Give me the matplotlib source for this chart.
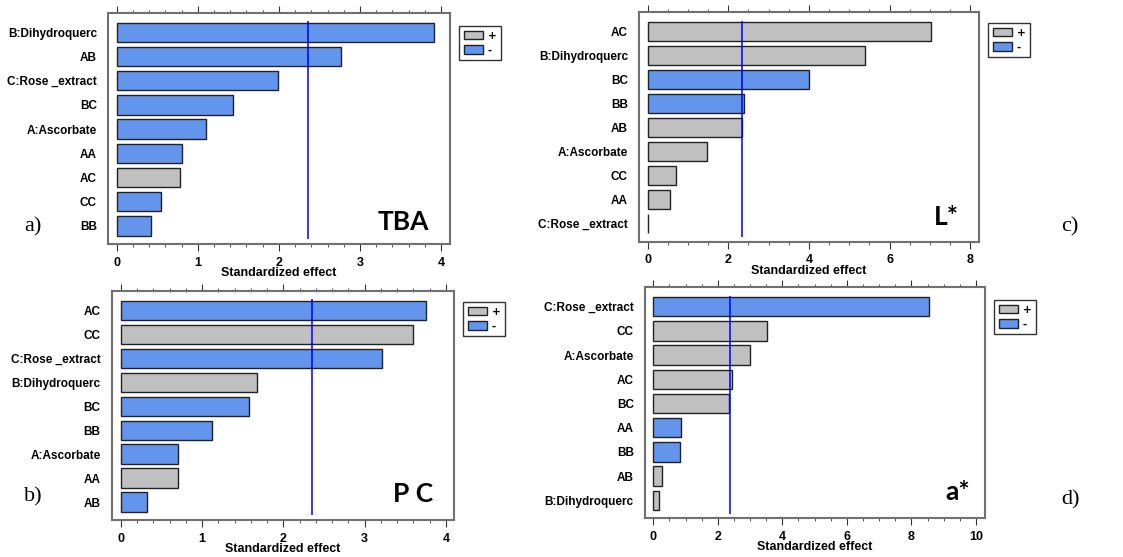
import matplotlib
matplotlib.use("Agg")
import matplotlib.pyplot as plt
from matplotlib.patches import Patch
from matplotlib.ticker import MultipleLocator

BLUE = "#6495ED"
GRAY = "#C0C0C0"

# Panel a) TBA
tba_labels = ["B:Dihydroquerc", "AB", "C:Rose _extract", "BC", "A:Ascorbate", "AA", "AC", "CC", "BB"]
tba_values = [3.91, 2.77, 1.99, 1.44, 1.10, 0.80, 0.78, 0.55, 0.42]
tba_signs = ["-", "-", "-", "-", "-", "-", "+", "-", "-"]

# Panel c) L*
l_labels = ["AC", "B:Dihydroquerc", "BC", "BB", "AB", "A:Ascorbate", "CC", "AA", "C:Rose _extract"]
l_values = [7.03, 5.39, 4.01, 2.40, 2.33, 1.47, 0.69, 0.55, 0.01]
l_signs = ["+", "+", "-", "-", "+", "+", "+", "+", "+"]

# Panel b) P C
pc_labels = ["AC", "CC", "C:Rose _extract", "B:Dihydroquerc", "BC", "BB", "A:Ascorbate", "AA", "AB"]
pc_values = [3.76, 3.59, 3.21, 1.68, 1.58, 1.12, 0.71, 0.70, 0.32]
pc_signs = ["-", "+", "-", "+", "-", "-", "-", "+", "-"]

# Panel d) a*
a_labels = ["C:Rose _extract", "CC", "A:Ascorbate", "AC", "BC", "AA", "BB", "AB", "B:Dihydroquerc"]
a_values = [8.54, 3.53, 3.01, 2.44, 2.34, 0.86, 0.84, 0.27, 0.19]
a_signs = ["-", "+", "+", "+", "+", "-", "-", "+", "+"]

critical = [2.365, 2.35, 2.355, 2.38]

fig = plt.figure(figsize=(11.23, 5.57), dpi=100)

panels = [
    dict(rect=[0.0962, 0.5619, 0.3045, 0.4147], labels=tba_labels, values=tba_values, signs=tba_signs,
         xlim=(-0.107, 4.11), major=1, minor=0.2, crit=critical[0],
         title="TBA", tpos=(403, 222), letter="a)", lpos=(33, 227), leg=(459, 26)),
    dict(rect=[0.569, 0.566, 0.3028, 0.4119], labels=l_labels, values=l_values, signs=l_signs,
         xlim=(-0.216, 8.22), major=2, minor=0.5, crit=critical[1],
         title="L*", tpos=(946, 217), letter="c)", lpos=(1070, 227), leg=(988, 23)),
    dict(rect=[0.0995, 0.0664, 0.3048, 0.4111], labels=pc_labels, values=pc_values, signs=pc_signs,
         xlim=(-0.111, 4.10), major=1, minor=0.2, crit=critical[2],
         title="P C", tpos=(413, 494), letter="b)", lpos=(33, 497), leg=(463, 302)),
    dict(rect=[0.5743, 0.0694, 0.3028, 0.4147], labels=a_labels, values=a_values, signs=a_signs,
         xlim=(-0.257, 10.28), major=2, minor=0.5, crit=critical[3],
         title="a*", tpos=(958, 492), letter="d)", lpos=(1070, 500), leg=(994, 300)),
]

W, H = 1123, 557
for p in panels:
    ax = fig.add_axes(p["rect"])
    n = len(p["labels"])
    ypos = list(range(n - 1, -1, -1))
    colors = [BLUE if s == "-" else GRAY for s in p["signs"]]
    ax.barh(ypos, p["values"], height=0.8, color=colors, edgecolor="#222222", linewidth=1.0)
    ax.set_ylim(-0.75, n - 1 + 0.8)
    ax.set_xlim(*p["xlim"])
    ax.vlines(p["crit"], -0.55, n - 1 + 0.45, color="#0000FF", linewidth=1.1)
    ax.set_yticks(ypos)
    ax.set_yticklabels(p["labels"], fontsize=8.5, fontweight="bold", family="Liberation Sans")
    ax.tick_params(axis="y", length=0, pad=8)
    ax.xaxis.set_major_locator(MultipleLocator(p["major"]))
    ax.xaxis.set_minor_locator(MultipleLocator(p["minor"]))
    ax.tick_params(axis="x", which="both", top=True, bottom=True, direction="out",
                   color="#333333", labelsize=9)
    ax.tick_params(axis="x", which="major", length=5, width=0.8, pad=4)
    ax.tick_params(axis="x", which="minor", length=2.5, width=0.6)
    for lab in ax.get_xticklabels():
        lab.set_fontweight("bold")
        lab.set_family("Liberation Sans")
    ax.set_xlabel("Standardized effect", fontsize=9, fontweight="bold",
                  family="Liberation Sans", labelpad=-1)
    for sp in ax.spines.values():
        sp.set_color("#707070")
        sp.set_linewidth(1.5)
    # panel title
    fig.text(p["tpos"][0] / W, 1 - p["tpos"][1] / H, p["title"], fontsize=19,
             fontweight="bold", family="Lato", ha="center", va="center")
    fig.text(p["lpos"][0] / W, 1 - p["lpos"][1] / H, p["letter"], fontsize=16,
             family="Liberation Serif", ha="center", va="center")
    handles = [Patch(facecolor=GRAY, edgecolor="#222222", label="+"),
               Patch(facecolor=BLUE, edgecolor="#222222", label="-")]
    leg = fig.legend(handles=handles, loc="upper left",
                     bbox_to_anchor=(p["leg"][0] / W, 1 - p["leg"][1] / H),
                     prop={"weight": "bold", "size": 7.5},
                     frameon=True, fancybox=False, edgecolor="black",
                     handlelength=1.9, handleheight=0.9, handletextpad=0.4,
                     borderpad=0.45, labelspacing=0.45, borderaxespad=0)
    leg.get_frame().set_linewidth(1.0)

fig.savefig("out.png", dpi=100)
